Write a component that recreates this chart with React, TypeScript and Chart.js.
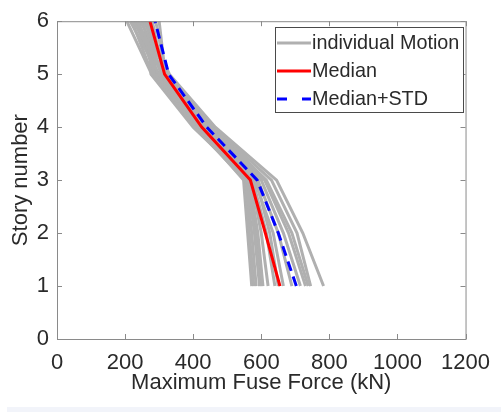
import React, { useEffect, useRef } from "react";
import { Chart, registerables } from "chart.js";

Chart.register(...registerables);

const stories = [1, 2, 3, 4, 5, 6];
const xTicks = [0, 200, 400, 600, 800, 1000, 1200];
const yTicks = [0, 1, 2, 3, 4, 5, 6];

const medianForce = [655, 612, 568, 425, 316, 273];
const medianStdForce = [703, 650, 588, 440, 328, 288];

const motion01 = [783, 722, 645, 465, 330, 262];
const motion02 = [745, 705, 630, 460, 328, 255];
const motion03 = [738, 690, 615, 455, 325, 245];
const motion04 = [730, 680, 610, 450, 320, 290];
const motion05 = [715, 665, 600, 445, 318, 300];
const motion06 = [690, 650, 590, 440, 315, 235];
const motion07 = [665, 635, 580, 430, 310, 225];
const motion08 = [640, 615, 575, 425, 305, 260];
const motion09 = [620, 600, 570, 420, 300, 215];
const motion10 = [605, 590, 565, 418, 295, 250];
const motion11 = [595, 580, 560, 415, 290, 230];
const motion12 = [585, 572, 555, 410, 285, 240];
const motion13 = [578, 565, 552, 405, 280, 220];
const motion14 = [572, 560, 548, 412, 278, 205];
const motion15 = [600, 585, 562, 400, 276, 270];
const motion16 = [650, 625, 585, 435, 312, 280];

const motions = [
  motion01, motion02, motion03, motion04, motion05, motion06, motion07, motion08,
  motion09, motion10, motion11, motion12, motion13, motion14, motion15, motion16,
];

const legendLabels = ["individual Motion", "Median", "Median+STD"];

const GRAY = "#b0b0b0";
const RED = "#ff0000";
const BLUE = "#0000ff";
const TEXT = "#2a2a2a";
const FRAME = "#8a8a8a";
const FONT = "'Liberation Sans', Arial, sans-serif";

const toPoints = (xs: number[]) => xs.map((x, i) => ({ x, y: stories[i] }));

const framePlugin = {
  id: "frameBox",
  beforeDraw(chart: any) {
    const { ctx, width, height } = chart;
    ctx.save();
    ctx.fillStyle = "#ffffff";
    ctx.fillRect(0, 0, width, height);
    ctx.fillStyle = "#f2f4fa";
    ctx.fillRect(7, 407, width - 7, height - 407);
    ctx.restore();
  },
  afterDatasetsDraw(chart: any) {
    const { ctx, chartArea } = chart;
    const { left, right, top, bottom } = chartArea;
    const xs = chart.scales.x;
    const ys = chart.scales.y;
    ctx.save();
    ctx.strokeStyle = FRAME;
    ctx.lineWidth = 1;
    ctx.strokeRect(left + 0.5, top + 0.5, right - left, bottom - top);
    ctx.beginPath();
    const tl = 5;
    xTicks.forEach((v) => {
      const px = Math.round(xs.getPixelForValue(v)) + 0.5;
      ctx.moveTo(px, bottom);
      ctx.lineTo(px, bottom - tl);
      ctx.moveTo(px, top);
      ctx.lineTo(px, top + tl);
    });
    yTicks.forEach((v) => {
      const py = Math.round(ys.getPixelForValue(v)) + 0.5;
      ctx.moveTo(left, py);
      ctx.lineTo(left + tl, py);
      ctx.moveTo(right, py);
      ctx.lineTo(right - tl, py);
    });
    ctx.stroke();

    // legend
    const bx = 275, by = 27, bw = 188, bh = 85;
    ctx.fillStyle = "#ffffff";
    ctx.fillRect(bx, by, bw, bh);
    ctx.strokeStyle = "#4a4a4a";
    ctx.lineWidth = 1;
    ctx.strokeRect(bx + 0.5, by + 0.5, bw, bh);
    const rows = [43, 71, 99];
    const colors = [GRAY, RED, BLUE];
    ctx.font = "19.8px " + FONT;
    ctx.textBaseline = "middle";
    ctx.textAlign = "left";
    rows.forEach((ry, i) => {
      ctx.beginPath();
      ctx.strokeStyle = colors[i];
      ctx.lineWidth = 3;
      if (i === 2) ctx.setLineDash([10, 15]);
      else ctx.setLineDash([]);
      ctx.moveTo(277, ry);
      ctx.lineTo(311, ry);
      ctx.stroke();
      ctx.setLineDash([]);
      ctx.fillStyle = TEXT;
      ctx.fillText(legendLabels[i], 312, ry + 1);
    });
    ctx.restore();
  },
};

export default function App() {
  const canvasRef = useRef<HTMLCanvasElement | null>(null);

  useEffect(() => {
    document.body.style.margin = "0";
    const canvas = canvasRef.current;
    if (!canvas) return;

    const grayDatasets = motions.map((m, i) => ({
      label: "individual Motion " + (i + 1),
      data: toPoints(m),
      borderColor: GRAY,
      backgroundColor: GRAY,
      borderWidth: 3,
      pointRadius: 0,
      showLine: true,
      tension: 0,
      order: 3,
    }));

    const chart = new Chart(canvas, {
      type: "line",
      data: {
        datasets: [
          ...grayDatasets,
          {
            label: "Median",
            data: toPoints(medianForce),
            borderColor: RED,
            backgroundColor: RED,
            borderWidth: 3,
            pointRadius: 0,
            tension: 0,
            order: 2,
          },
          {
            label: "Median+STD",
            data: toPoints(medianStdForce),
            borderColor: BLUE,
            backgroundColor: BLUE,
            borderWidth: 3,
            borderDash: [10, 6],
            pointRadius: 0,
            tension: 0,
            order: 1,
          },
        ] as any,
      },
      options: {
        responsive: false,
        animation: false,
        layout: { padding: { top: 15, right: 27, left: 0, bottom: 0 } },
        plugins: {
          legend: { display: false },
          tooltip: { enabled: false },
        },
        scales: {
          x: {
            type: "linear",
            min: 0,
            max: 1200,
            grid: { display: false, drawTicks: false },
            border: { display: false },
            afterBuildTicks: (s: any) => {
              s.ticks = xTicks.map((v) => ({ value: v }));
            },
            afterFit: (s: any) => {
              s.height = 73;
            },
            ticks: {
              color: TEXT,
              font: { family: FONT, size: 22 },
              padding: 11,
              maxRotation: 0,
              autoSkip: false,
              callback: (v: any) => String(v),
            },
            title: {
              display: true,
              text: "Maximum Fuse Force (kN)",
              color: TEXT,
              font: { family: FONT, size: 22 },
              padding: { top: 0, bottom: 16 },
            },
          },
          y: {
            type: "linear",
            min: 0,
            max: 6,
            grid: { display: false, drawTicks: false },
            border: { display: false },
            afterBuildTicks: (s: any) => {
              s.ticks = yTicks.map((v) => ({ value: v }));
            },
            afterFit: (s: any) => {
              s.width = 57;
            },
            ticks: {
              color: TEXT,
              font: { family: FONT, size: 22 },
              padding: 8,
              autoSkip: false,
              callback: (v: any) => String(v),
            },
            title: {
              display: true,
              text: "Story number",
              color: TEXT,
              font: { family: FONT, size: 22 },
              padding: { top: 8, bottom: 0 },
            },
          },
        },
      },
      plugins: [framePlugin],
    });

    return () => {
      chart.destroy();
    };
  }, []);

  return (
    <div style={{ width: 501, height: 412, overflow: "hidden" }}>
      <canvas ref={canvasRef} width={501} height={412} style={{ display: "block" }} />
    </div>
  );
}
